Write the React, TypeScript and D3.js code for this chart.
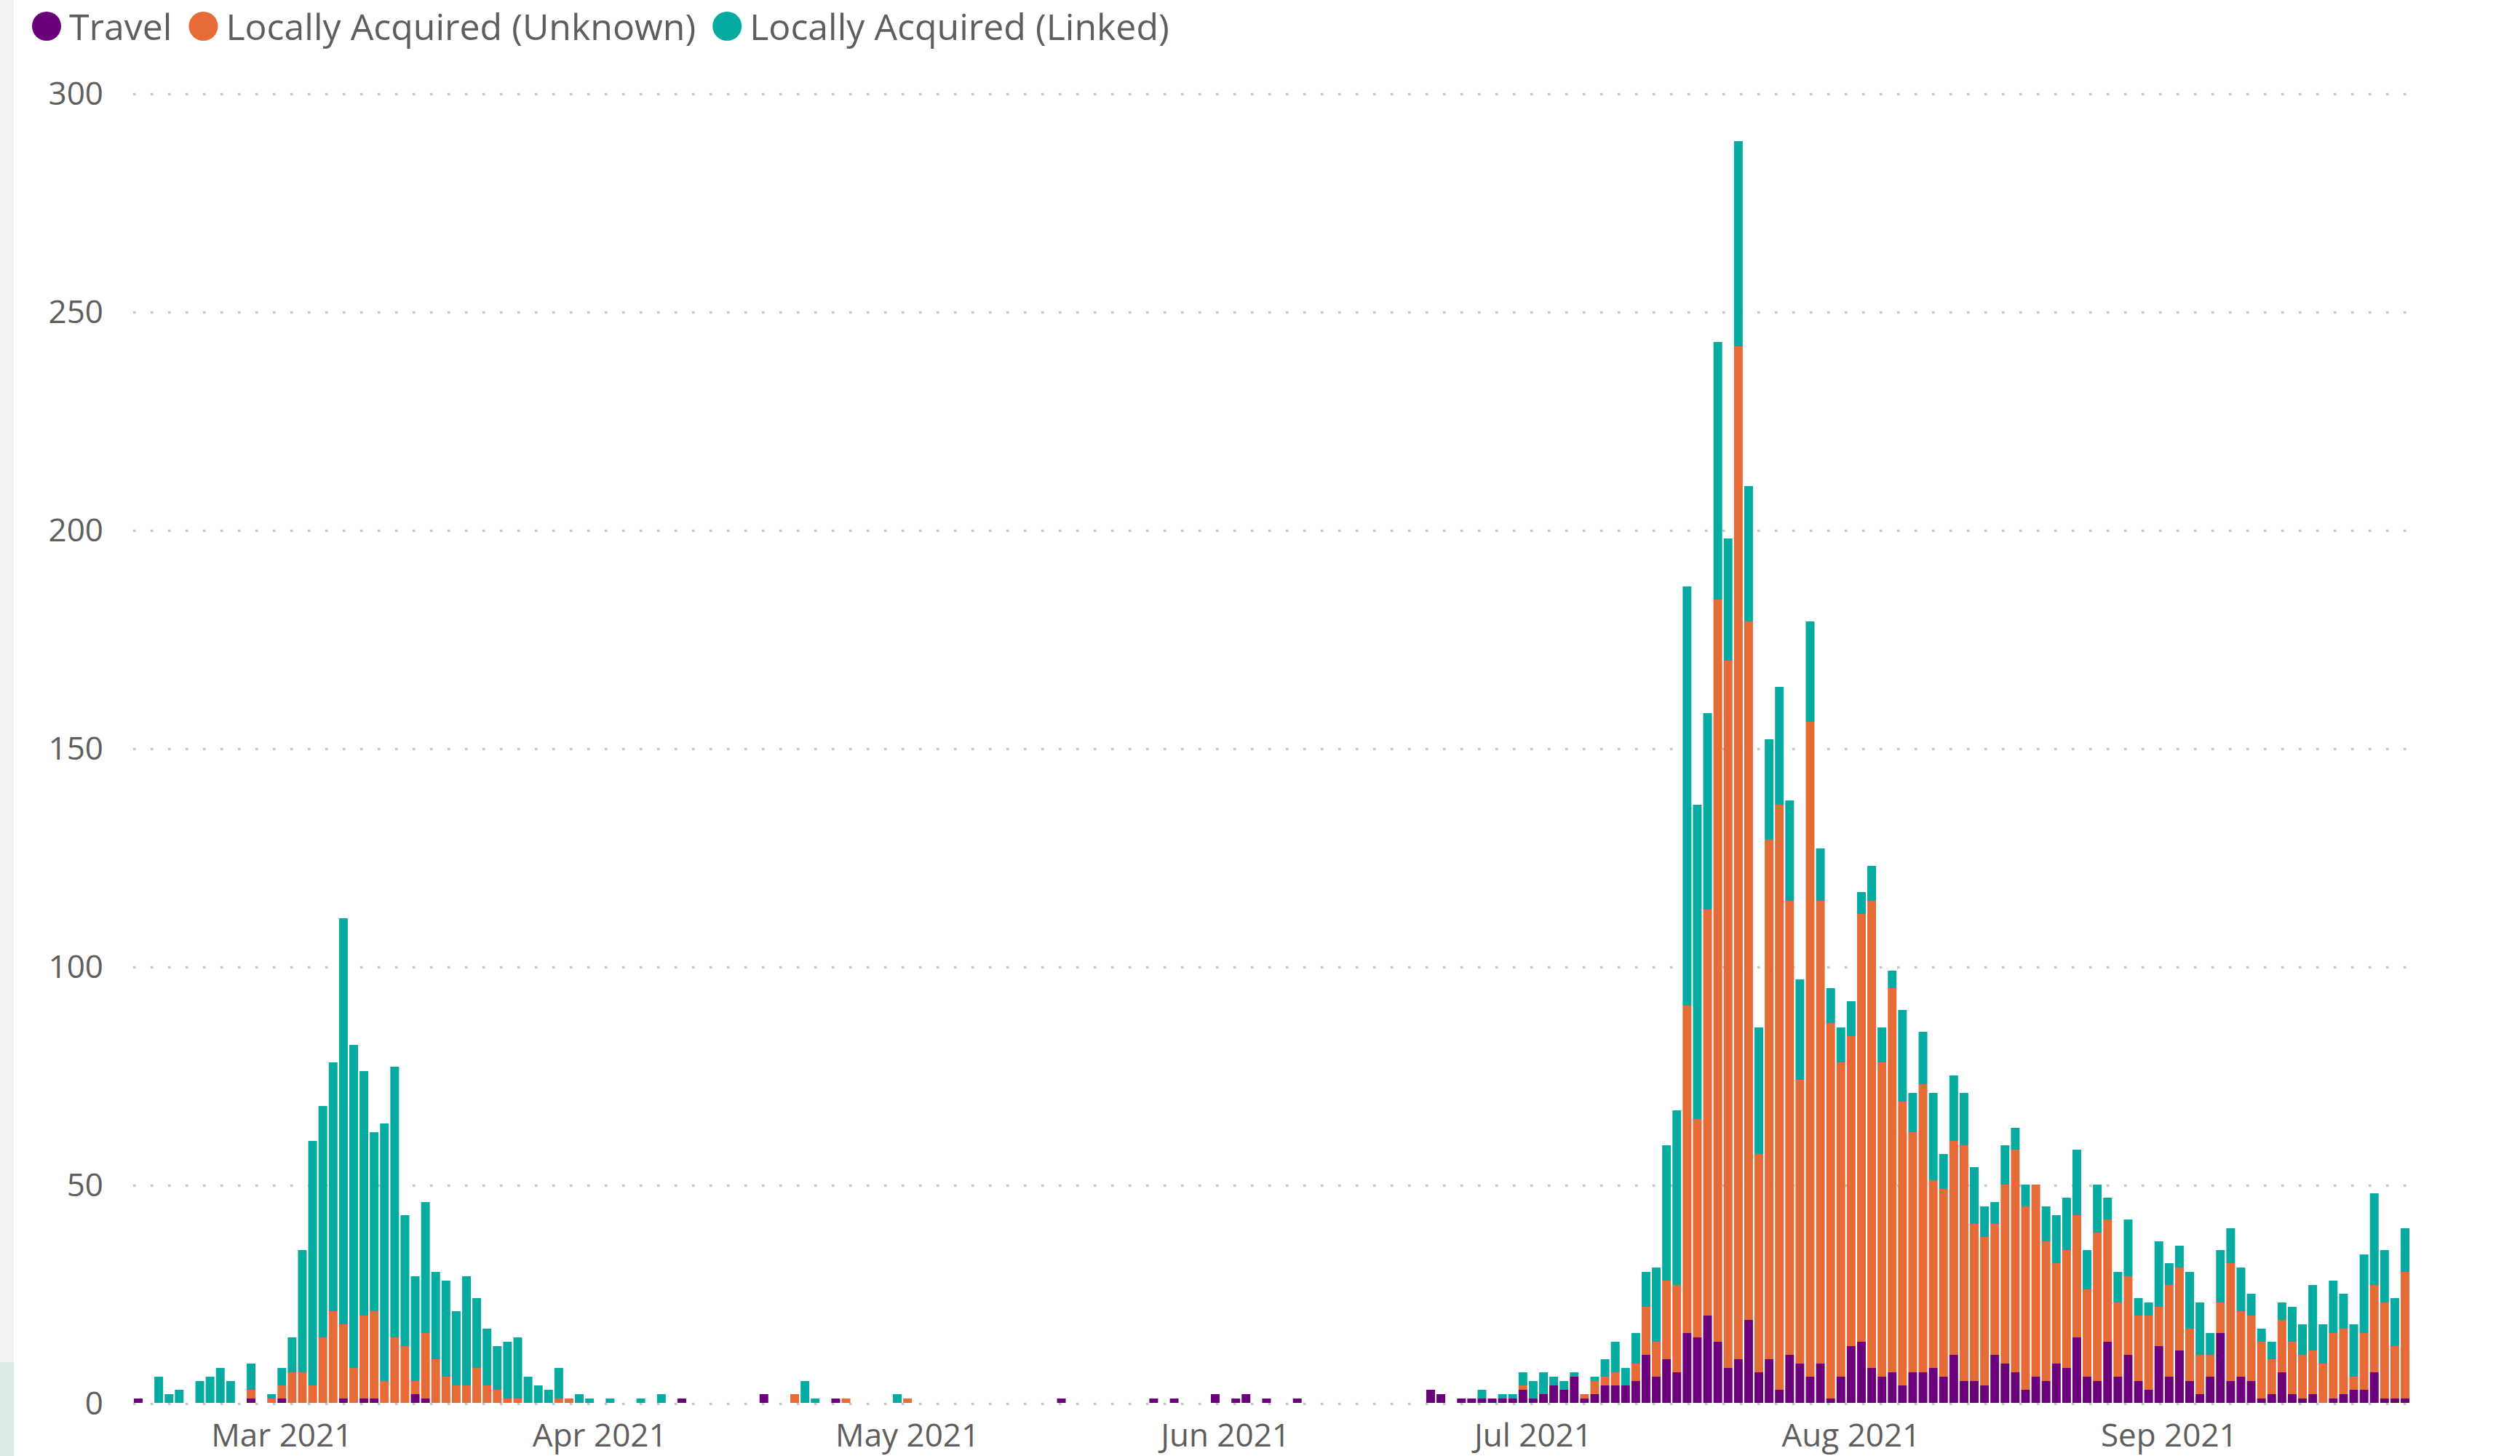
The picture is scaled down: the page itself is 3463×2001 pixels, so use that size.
import React, { useEffect, useRef } from "react";
import * as d3 from "d3";

const W = 3463;
const H = 2001;

const START = "2021-02-15";
const seriesNames = ["Travel", "Locally Acquired (Unknown)", "Locally Acquired (Linked)"];
const seriesColors = ["#6B007B", "#E66C37", "#05ABA0"];
const yTicks = [0, 50, 100, 150, 200, 250, 300];
const monthTicks = ["2021-03-01", "2021-04-01", "2021-05-01", "2021-06-01", "2021-07-01", "2021-08-01", "2021-09-01"];

// daily counts, Feb 15 .. Sep 24 2021
const travelFeb = [1, 0, 0, 0, 0, 0, 0, 0, 0, 0, 0, 1, 0, 0];
const unknownFeb = [0, 0, 0, 0, 0, 0, 0, 0, 0, 0, 0, 2, 0, 1];
const linkedFeb = [0, 0, 6, 2, 3, 0, 5, 6, 8, 5, 0, 6, 0, 1];

const travelMar = [1, 0, 0, 0, 0, 0, 1, 0, 1, 1, 0, 0, 0, 2, 1, 0, 0, 0, 0, 0, 0, 0, 0, 0, 0, 0, 0, 0, 0, 0, 0];
const unknownMar = [3, 7, 7, 4, 15, 21, 17, 8, 19, 20, 5, 15, 13, 3, 15, 10, 6, 4, 4, 8, 4, 3, 1, 1, 0, 0, 0, 1, 1, 0, 0];
const linkedMar = [4, 8, 28, 56, 53, 57, 93, 74, 56, 41, 59, 62, 30, 24, 30, 20, 22, 17, 25, 16, 13, 10, 13, 14, 6, 4, 3, 7, 0, 2, 1];

const travelApr = [0, 0, 0, 0, 0, 0, 0, 0, 1, 0, 0, 0, 0, 0, 0, 0, 2, 0, 0, 0, 0, 0, 0, 1, 0, 0, 0, 0, 0, 0];
const unknownApr = [0, 0, 0, 0, 0, 0, 0, 0, 0, 0, 0, 0, 0, 0, 0, 0, 0, 0, 0, 2, 0, 0, 0, 0, 1, 0, 0, 0, 0, 0];
const linkedApr = [0, 1, 0, 0, 1, 0, 2, 0, 0, 0, 0, 0, 0, 0, 0, 0, 0, 0, 0, 0, 5, 1, 0, 0, 0, 0, 0, 0, 0, 2];

const travelMay = [0, 0, 0, 0, 0, 0, 0, 0, 0, 0, 0, 0, 0, 0, 0, 1, 0, 0, 0, 0, 0, 0, 0, 0, 1, 0, 1, 0, 0, 0, 2];
const unknownMay = [1, 0, 0, 0, 0, 0, 0, 0, 0, 0, 0, 0, 0, 0, 0, 0, 0, 0, 0, 0, 0, 0, 0, 0, 0, 0, 0, 0, 0, 0, 0];
const linkedMay = [0, 0, 0, 0, 0, 0, 0, 0, 0, 0, 0, 0, 0, 0, 0, 0, 0, 0, 0, 0, 0, 0, 0, 0, 0, 0, 0, 0, 0, 0, 0];

const travelJun = [0, 1, 2, 0, 1, 0, 0, 1, 0, 0, 0, 0, 0, 0, 0, 0, 0, 0, 0, 0, 3, 2, 0, 1, 1, 1, 1, 1, 1, 3];
const unknownJun = [0, 0, 0, 0, 0, 0, 0, 0, 0, 0, 0, 0, 0, 0, 0, 0, 0, 0, 0, 0, 0, 0, 0, 0, 0, 0, 0, 0, 0, 1];
const linkedJun = [0, 0, 0, 0, 0, 0, 0, 0, 0, 0, 0, 0, 0, 0, 0, 0, 0, 0, 0, 0, 0, 0, 0, 0, 0, 2, 0, 1, 1, 3];

const travelJul = [1, 2, 4, 3, 6, 1, 2, 4, 4, 4, 5, 11, 6, 10, 7, 16, 15, 20, 14, 8, 10, 19, 7, 10, 3, 11, 9, 6, 9, 1, 6];
const unknownJul = [0, 0, 0, 0, 0, 1, 3, 2, 3, 0, 4, 11, 8, 18, 20, 75, 50, 93, 170, 162, 232, 160, 50, 119, 134, 104, 65, 150, 106, 86, 72];
const linkedJul = [4, 5, 2, 2, 1, 0, 1, 4, 7, 4, 7, 8, 17, 31, 40, 96, 72, 45, 59, 28, 47, 31, 29, 23, 27, 23, 23, 23, 12, 8, 8];

const travelAug = [13, 14, 8, 6, 7, 4, 7, 7, 8, 6, 11, 5, 5, 4, 11, 9, 7, 3, 6, 5, 9, 8, 15, 6, 5, 14, 6, 11, 5, 3, 13];
const unknownAug = [71, 98, 107, 72, 88, 65, 55, 66, 43, 43, 49, 54, 36, 34, 30, 41, 51, 42, 44, 32, 23, 27, 28, 20, 34, 28, 17, 18, 15, 17, 9];
const linkedAug = [8, 5, 8, 8, 4, 21, 9, 12, 20, 8, 15, 12, 13, 7, 5, 9, 5, 5, 0, 8, 11, 12, 15, 9, 11, 5, 7, 13, 4, 3, 15];

const travelSep = [6, 12, 5, 2, 6, 16, 5, 6, 5, 1, 2, 7, 2, 1, 2, 0, 1, 2, 3, 3, 7, 1, 1, 1];
const unknownSep = [21, 19, 12, 9, 5, 7, 27, 15, 15, 13, 8, 12, 12, 10, 10, 9, 15, 15, 3, 13, 20, 22, 12, 29];
const linkedSep = [5, 5, 13, 12, 5, 12, 8, 10, 5, 3, 4, 4, 8, 7, 15, 9, 12, 8, 12, 18, 21, 12, 11, 10];

const travel = [...travelFeb, ...travelMar, ...travelApr, ...travelMay, ...travelJun, ...travelJul, ...travelAug, ...travelSep];
const unknown = [...unknownFeb, ...unknownMar, ...unknownApr, ...unknownMay, ...unknownJun, ...unknownJul, ...unknownAug, ...unknownSep];
const linked = [...linkedFeb, ...linkedMar, ...linkedApr, ...linkedMay, ...linkedJun, ...linkedJul, ...linkedAug, ...linkedSep];

const FONT = "'Segoe UI', 'Open Sans', sans-serif";
const TEXT = "#605E5C";

export default function App() {
  const ref = useRef<SVGSVGElement>(null);

  useEffect(() => {
    const svg = d3.select(ref.current);
    svg.selectAll("*").remove();

    const parse = d3.timeParse("%Y-%m-%d");
    const start = parse(START) as Date;
    const days = d3.timeDay.range(start, d3.timeDay.offset(start, travel.length));
    const rows = days.map((d, i) => ({ date: d, travel: travel[i], unknown: unknown[i], linked: linked[i] }));

    const left = 183, right = 3312, top = 128, bottom = 1928;

    // canvas edge
    svg.append("rect").attr("x", 0).attr("y", 0).attr("width", 19).attr("height", H).attr("fill", "#F3F2F1");
    svg.append("rect").attr("x", 0).attr("y", 1872).attr("width", 19).attr("height", H - 1872).attr("fill", "#DCEBE8");

    const x = d3.scaleBand<Date>().domain(days).range([left, right]).paddingInner(0.15).paddingOuter(0.07);
    const y = d3.scaleLinear().domain([0, 300]).range([bottom, top]);

    // gridlines
    svg.append("g")
      .selectAll("line")
      .data(yTicks)
      .join("line")
      .attr("x1", left)
      .attr("x2", right + 1)
      .attr("y1", (d) => y(d) + 1.5)
      .attr("y2", (d) => y(d) + 1.5)
      .attr("stroke", "#C8C6C4")
      .attr("stroke-width", 3.5)
      .attr("stroke-dasharray", "3.5 20.5");

    // y labels
    svg.append("g")
      .selectAll("text")
      .data(yTicks)
      .join("text")
      .attr("x", 142)
      .attr("y", (d) => y(d))
      .attr("dy", "0.36em")
      .attr("text-anchor", "end")
      .attr("font-family", FONT)
      .attr("font-size", 44)
      .attr("fill", TEXT)
      .text((d) => d);

    // stacked bars
    const stack = d3.stack<any>().keys(["travel", "unknown", "linked"]);
    const layers = stack(rows);
    svg.append("g")
      .selectAll("g")
      .data(layers)
      .join("g")
      .attr("fill", (d, i) => seriesColors[i])
      .selectAll("rect")
      .data((d) => d.filter((p) => p[1] > p[0]))
      .join("rect")
      .attr("x", (d) => x(d.data.date) as number)
      .attr("width", x.bandwidth())
      .attr("y", (d) => y(d[1]))
      .attr("height", (d) => y(d[0]) - y(d[1]));

    // x axis
    const fmt = d3.timeFormat("%b %Y");
    const xAxis = svg.append("g")
      .attr("transform", `translate(0, ${bottom})`)
      .call(
        d3.axisBottom(x)
          .tickValues(monthTicks.map((s) => days.find((d) => +d === +(parse(s) as Date)) as Date))
          .tickFormat((d) => fmt(d as Date))
          .tickSize(0)
          .tickPadding(29)
      );
    xAxis.select(".domain").remove();
    xAxis.attr("font-family", FONT).attr("font-size", 44);
    xAxis.selectAll("text").attr("fill", TEXT);

    // legend
    const legend = svg.append("g").attr("transform", "translate(0, 36)");
    let cx = 64;
    seriesNames.forEach((name, i) => {
      legend.append("circle").attr("cx", cx).attr("cy", 0).attr("r", 20).attr("fill", seriesColors[i]);
      const t = legend.append("text")
        .attr("x", cx + 31)
        .attr("y", 19)
        .attr("font-family", FONT)
        .attr("font-size", 50)
        .attr("fill", TEXT)
        .text(name);
      const w = (t.node() as SVGTextElement).getComputedTextLength();
      cx = cx + 31 + w + 43;
    });
  }, []);

  return (
    <svg
      ref={ref}
      width={W}
      height={H}
      style={{ position: "absolute", left: 0, top: 0, display: "block", background: "#fff" }}
    />
  );
}
